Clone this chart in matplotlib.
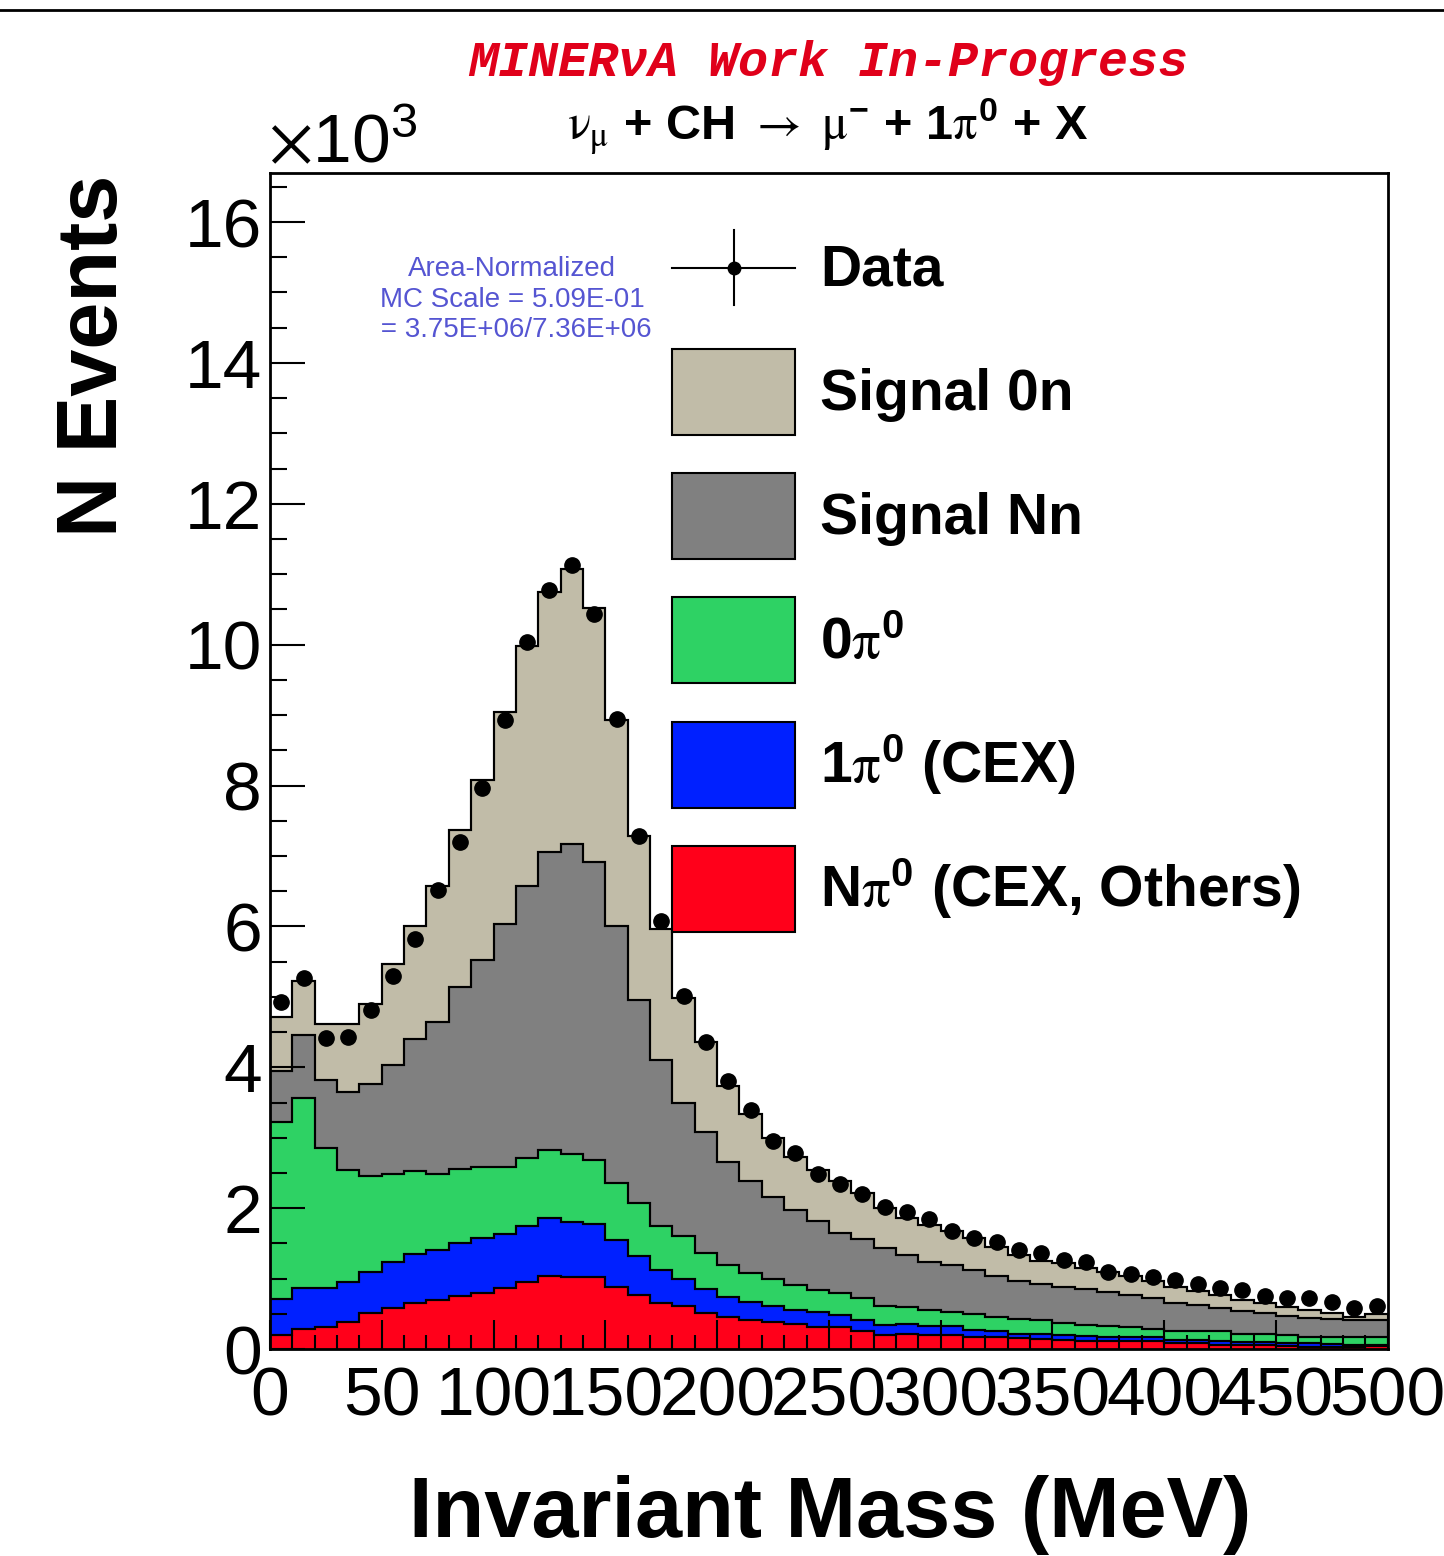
import numpy as np
import matplotlib
matplotlib.use("Agg")
import matplotlib.pyplot as plt
from matplotlib.patches import Patch
from matplotlib.lines import Line2D

plt.rcParams['font.family'] = ['Liberation Sans', 'DejaVu Sans']
plt.rcParams['mathtext.fontset'] = 'stix'

# invariant mass bins, 10 MeV wide
bin_edges = np.arange(0, 501, 10)

# all values in units of 10^3 events
data = [4.93, 5.27, 4.42, 4.43, 4.81, 5.30, 5.82, 6.52, 7.20, 7.97,
        8.93, 10.04, 10.78, 11.13, 10.44, 8.95, 7.29, 6.07, 5.01, 4.36,
        3.80, 3.39, 2.96, 2.79, 2.48, 2.35, 2.20, 2.01, 1.95, 1.84,
        1.67, 1.58, 1.52, 1.41, 1.36, 1.26, 1.23, 1.09, 1.06, 1.02,
        0.98, 0.92, 0.86, 0.84, 0.75, 0.72, 0.72, 0.67, 0.58, 0.61]

n_pi0_other = [0.20, 0.29, 0.32, 0.39, 0.51, 0.58, 0.66, 0.70, 0.75, 0.80,
               0.86, 0.95, 1.03, 1.02, 1.02, 0.88, 0.77, 0.65, 0.61, 0.51,
               0.46, 0.41, 0.39, 0.35, 0.31, 0.31, 0.25, 0.20, 0.22, 0.20,
               0.20, 0.17, 0.17, 0.15, 0.14, 0.13, 0.12, 0.12, 0.11, 0.12,
               0.09, 0.08, 0.06, 0.06, 0.06, 0.05, 0.03, 0.03, 0.03, 0.04]

one_pi0_cex = [0.51, 0.57, 0.54, 0.56, 0.58, 0.65, 0.69, 0.71, 0.76, 0.77,
               0.77, 0.80, 0.83, 0.78, 0.75, 0.67, 0.55, 0.47, 0.39, 0.34,
               0.28, 0.26, 0.22, 0.20, 0.21, 0.17, 0.16, 0.14, 0.14, 0.13,
               0.13, 0.10, 0.08, 0.07, 0.08, 0.07, 0.07, 0.05, 0.06, 0.05,
               0.04, 0.05, 0.06, 0.04, 0.04, 0.04, 0.05, 0.04, 0.03, 0.02]

zero_pi0 = [2.51, 2.71, 1.99, 1.59, 1.37, 1.25, 1.18, 1.07, 1.05, 1.02,
            0.96, 0.96, 0.96, 0.97, 0.91, 0.81, 0.76, 0.62, 0.60, 0.52,
            0.45, 0.41, 0.38, 0.36, 0.32, 0.31, 0.32, 0.27, 0.24, 0.23,
            0.20, 0.23, 0.20, 0.21, 0.19, 0.17, 0.15, 0.16, 0.14, 0.11,
            0.13, 0.13, 0.13, 0.12, 0.12, 0.11, 0.09, 0.10, 0.11, 0.11]

signal_nn = [0.73, 0.89, 0.97, 1.11, 1.30, 1.55, 1.87, 2.17, 2.58, 2.93,
             3.44, 3.86, 4.23, 4.40, 4.23, 3.64, 2.87, 2.36, 1.90, 1.71,
             1.46, 1.31, 1.17, 1.06, 0.98, 0.86, 0.83, 0.82, 0.73, 0.67,
             0.66, 0.62, 0.59, 0.54, 0.52, 0.51, 0.51, 0.48, 0.46, 0.44,
             0.40, 0.36, 0.33, 0.32, 0.29, 0.27, 0.27, 0.25, 0.24, 0.24]

signal_0n = [0.77, 0.77, 0.79, 0.96, 1.14, 1.44, 1.60, 1.92, 2.23, 2.56,
             3.01, 3.41, 3.70, 3.91, 3.61, 2.93, 2.33, 1.87, 1.48, 1.28,
             1.08, 0.95, 0.83, 0.76, 0.72, 0.73, 0.65, 0.57, 0.53, 0.53,
             0.48, 0.45, 0.41, 0.36, 0.32, 0.34, 0.30, 0.29, 0.26, 0.24,
             0.22, 0.21, 0.19, 0.16, 0.15, 0.13, 0.12, 0.09, 0.05, 0.09]

components = [n_pi0_other, one_pi0_cex, zero_pi0, signal_nn, signal_0n]
labels = [r"N$\mathrm{\pi}^{\mathdefault{0}}$ (CEX, Others)",
          r"1$\mathrm{\pi}^{\mathdefault{0}}$ (CEX)",
          r"0$\mathrm{\pi}^{\mathdefault{0}}$",
          "Signal Nn", "Signal 0n"]
colors = ["#ff001a", "#0020ff", "#2ed264", "#808080", "#c1bca8"]


class DataHandler:
    # ROOT style "lep" legend entry: cross with a dot in the middle
    def legend_artist(self, legend, orig_handle, fontsize, handlebox):
        x0, y0 = -handlebox.xdescent, -handlebox.ydescent
        w, h = handlebox.width, handlebox.height
        cx, cy = x0 + w / 2, y0 + h / 2
        hline = Line2D([x0, x0 + w], [cy, cy], color="black", lw=1.5)
        vline = Line2D([cx, cx], [cy - 27, cy + 27], color="black", lw=1.5)
        dot = Line2D([cx], [cy], marker="o", markersize=9, color="black")
        for a in (hline, vline, dot):
            handlebox.add_artist(a)
        return dot


fig = plt.figure(figsize=(14.44, 15.56), dpi=100)
ax = fig.add_axes([0.187, 0.133, 0.774, 0.756])

# stacked histogram, drawn like ROOT THStack: cumulative sums, largest first
stack = np.cumsum(np.array(components), axis=0)
for i in range(len(components) - 1, -1, -1):
    ax.stairs(stack[i], bin_edges, baseline=0, fill=True,
              facecolor=colors[i], edgecolor="black", linewidth=1.5)
    ax.stairs(stack[i], bin_edges, baseline=None, color="black", linewidth=1.5)

centers = 0.5 * (bin_edges[:-1] + bin_edges[1:])
data_pts, = ax.plot(centers, data, "o", color="black", markersize=11, zorder=5)

ax.set_xlim(0, 500)
ax.set_ylim(0, 16.7)
ax.set_xticks(np.arange(0, 501, 50))
ax.set_xticks(np.arange(0, 501, 10), minor=True)
ax.set_yticks(np.arange(0, 17, 2))
ax.set_yticks(np.arange(0, 16.6, 0.5), minor=True)
ax.tick_params(axis="both", which="both", direction="in", width=1.5,
               labelsize=50, top=False, right=False)
ax.tick_params(axis="y", which="major", length=25, pad=6)
ax.tick_params(axis="y", which="minor", length=12)
ax.tick_params(axis="x", which="major", length=21, pad=12)
ax.tick_params(axis="x", which="minor", length=10)
for s in ax.spines.values():
    s.set_linewidth(2)
    s.set_zorder(6)

# legend
handles = [data_pts]
leg_labels = ["Data"]
for i in range(len(components) - 1, -1, -1):
    handles.append(Patch(facecolor=colors[i], edgecolor="black", linewidth=1.5))
    leg_labels.append(labels[i])
ax.legend(handles, leg_labels, loc="upper left", bbox_to_anchor=(0.36, 0.956),
          frameon=False, borderaxespad=0, borderpad=0,
          prop={"weight": "bold", "size": 41}, handlelength=2.15,
          handleheight=1.95, labelspacing=0.67, handletextpad=0.45,
          handler_map={data_pts: DataHandler()})

ax.text(0.2165, 0.892, "Area-Normalized\nMC Scale = 5.09E-01\n = 3.75E+06/7.36E+06",
        transform=ax.transAxes, ha="center", va="center", multialignment="center",
        fontsize=20, color="#5555d2", linespacing=1.22)

# titles and axis labels
fig.text(0.5734, 0.9595, "MINERνA Work In-Progress", family="Liberation Mono",
         weight="bold", style="italic", fontsize=36, color="#e0001a",
         ha="center", va="center")
fig.text(0.5734, 0.9184,
         r"$\mathrm{\nu_{\mu}}$ + CH $\rightarrow$ $\mathrm{\mu}^{\mathdefault{-}}$ + 1$\mathrm{\pi}^{\mathdefault{0}}$ + X",
         weight="bold", fontsize=35, ha="center", va="center")
fig.text(0.1856, 0.8952, r"$\times\mathdefault{10^{3}}$", fontsize=50,
         ha="left", va="baseline")
fig.text(0.5748, 0.0125, "Invariant Mass (MeV)", weight="bold", fontsize=61,
         ha="center", va="baseline")
fig.text(0.0655, 1 - 175 / 1556, "N Events", weight="bold", fontsize=61,
         rotation=90, ha="center", va="top")

fig.add_artist(Line2D([0, 1], [0.9936, 0.9936], color="black", linewidth=2,
                      transform=fig.transFigure))

fig.savefig("out.png", dpi=100)
